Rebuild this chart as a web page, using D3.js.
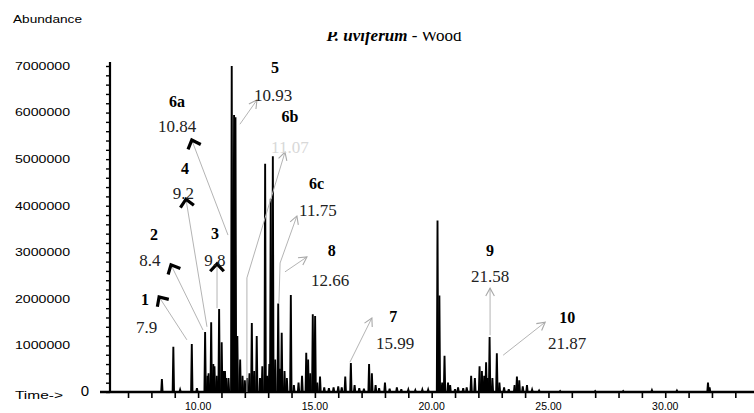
<!DOCTYPE html>
<html><head><meta charset="utf-8">
<script src="https://cdn.jsdelivr.net/npm/d3@7"></script>
<style>html,body{margin:0;padding:0;background:#fff;overflow:hidden}svg{display:block}</style>
</head><body><svg id="c" width="754" height="413"></svg>
<script>
// ---- data (retention time in min, abundance) ----
const peakTimes = [8.45,8.94,9.23,9.73,9.95,10.30,10.40,10.45,10.56,10.65,10.70,10.80,10.90,11.01,11.10,11.15,11.20,11.30,11.44,11.54,11.60,11.68,11.80,11.90,12.00,12.10,12.20,12.30,12.40,12.51,12.65,12.75,12.87,12.95,13.05,13.11,13.20,13.30,13.43,13.50,13.58,13.70,13.80,13.97,14.10,14.30,14.45,14.63,14.71,14.80,14.91,15.01,15.10,15.22,15.40,15.60,15.80,16.00,16.15,16.30,16.54,16.70,16.90,17.10,17.32,17.44,17.60,17.75,18.00,18.20,18.51,18.70,19.00,19.30,19.60,19.85,20.25,20.33,20.45,20.55,20.70,20.79,21.00,21.13,21.35,21.50,21.69,21.85,22.05,22.15,22.25,22.33,22.40,22.48,22.60,22.79,22.90,23.10,23.30,23.55,23.65,23.75,23.90,24.08,24.30,24.60,25.50,27.00,28.20,29.43,30.50,31.83,31.90];
const peakValues = [280000,970000,50000,1030000,80000,1290000,350000,400000,1500000,600000,550000,350000,1780000,1070000,450000,450000,300000,300000,7000000,5950000,5900000,1200000,700000,350000,250000,300000,400000,1480000,450000,1200000,300000,550000,4900000,350000,600000,4150000,5060000,700000,1900000,500000,1270000,450000,300000,2080000,150000,200000,350000,840000,700000,400000,1670000,1630000,200000,330000,100000,80000,100000,120000,100000,330000,620000,150000,80000,70000,600000,400000,150000,80000,200000,70000,100000,60000,50000,40000,50000,50000,3680000,2070000,200000,780000,200000,150000,60000,100000,80000,100000,350000,300000,550000,450000,350000,640000,300000,1180000,300000,830000,200000,100000,60000,150000,330000,250000,120000,150000,50000,30000,20000,20000,20000,40000,30000,200000,100000];
const yTickValues = [0,1000000,2000000,3000000,4000000,5000000,6000000,7000000];
const yTickLabels = ["0","1000000","2000000","3000000","4000000","5000000","6000000","7000000"];
const xTickValues = [10,15,20,25,30];
const xTickLabels = ["10.00","15.00","20.00","25.00","30.00"];
const compoundIds = ["1","2","3","4","5","6a","6b","6c","7","8","9","10"];
const compoundRTs = ["7.9","8.4","9.8","9.2","10.93","10.84","11.07","11.75","15.99","12.66","21.58","21.87"];

// ---- annotation layout, in data units (t = min, v = abundance) ----
const annLayout = {
  "1":  {lt:7.73, lv:1980000, rt:7.80, rv:1400000, tip:[8.33,2040000], end:[9.52,1120000], bold:true},
  "2":  {lt:8.11, lv:3390000, rt:7.94, rv:2830000, tip:[8.84,2730000], end:[10.21,1330000], bold:true},
  "3":  {lt:10.72, lv:3410000, rt:10.72, rv:2830000, tip:[10.81,2750000], end:[10.81,1800000], bold:true},
  "4":  {lt:9.44, lv:4800000, rt:9.37, rv:4270000, tip:[9.48,4140000], end:[10.38,1400000], bold:true},
  "5":  {lt:13.29, lv:6980000, rt:13.21, rv:6380000, tip:[12.52,6270000], end:[11.79,5750000], bold:false},
  "6a": {lt:9.10, lv:6230000, rt:9.10, rv:5700000, tip:[9.73,5410000], end:[11.28,3370000], bold:true},
  "6b": {lt:13.93, lv:5910000, rt:13.93, rv:5260000, tip:[13.72,5150000], end:[12.09,2450000], base:true, bold:false},
  "6c": {lt:15.07, lv:4480000, rt:15.13, rv:3910000, tip:[14.23,3780000], end:[13.51,2770000], drop:[13.46,1910000], bold:false},
  "7":  {lt:18.36, lv:1620000, rt:18.43, rv:1050000, tip:[17.44,1590000], end:[16.50,640000], bold:false},
  "8":  {lt:15.72, lv:3050000, rt:15.65, rv:2400000, tip:[14.66,2900000], end:[13.72,2580000], bold:false},
  "9":  {lt:22.50, lv:3050000, rt:22.50, rv:2480000, tip:[22.50,2230000], end:[22.50,1220000], bold:false},
  "10": {lt:25.80, lv:1610000, rt:25.80, rv:1050000, tip:[24.86,1500000], end:[23.06,790000], bold:false}
};

const svg = d3.select("#c");
const x = d3.scaleLinear().domain([5.8, 33.8]).range([100, 754]);
const y = d3.scaleLinear().domain([0, 7000000]).range([392, 66]);
const sans = "'Liberation Sans', Arial, sans-serif";
const serif = "'Liberation Serif', 'Times New Roman', serif";

// Title (top clipped as in the scan)
svg.append("defs").append("clipPath").attr("id","tclip")
  .append("rect").attr("x",0).attr("y",32).attr("width",754).attr("height",40);
const title = svg.append("text").attr("x", 394).attr("y", 41).attr("text-anchor","middle")
  .attr("clip-path","url(#tclip)")
  .style("font-family", serif).style("font-size","17px");
title.append("tspan").style("font-style","italic").style("font-weight","bold").text("P. uviferum");
title.append("tspan").text(" - Wood");

svg.append("text").attr("x",13).attr("y",23).attr("textLength",69).attr("lengthAdjust","spacingAndGlyphs")
  .style("font-family",sans).style("font-size","11px").text("Abundance");

// Y axis
const yAxis = d3.axisLeft(y).tickValues(d3.range(0, 7000001, 200000)).tickSize(4).tickFormat("");
const gy = svg.append("g").attr("transform","translate(110,0)").call(yAxis);
gy.select(".domain").remove();
gy.selectAll("line").attr("stroke","#000").attr("stroke-width",1.4);
svg.append("line").attr("x1",110).attr("x2",110).attr("y1",62).attr("y2",393)
  .attr("stroke","#000").attr("stroke-width",2.2);
svg.append("g").selectAll("text").data(yTickValues.slice(1)).join("text")
  .attr("x",15).attr("y",d=>y(d)).attr("dy","0.35em")
  .attr("textLength",55).attr("lengthAdjust","spacingAndGlyphs")
  .style("font-family",sans).style("font-size","11px")
  .text((d,i)=>yTickLabels[i+1]);
svg.append("text").attr("x",85).attr("y",y(0)-1).attr("dy","0.35em").attr("text-anchor","middle")
  .style("font-family",sans).style("font-size","15px").text(yTickLabels[0]);
svg.append("text").attr("x",15).attr("y",395).attr("dy","0.35em")
  .attr("textLength",48).attr("lengthAdjust","spacingAndGlyphs")
  .style("font-family",sans).style("font-size","10px").text("Time->");

// X axis
const xAxis = d3.axisBottom(x).tickValues(d3.range(7, 34, 1)).tickSize(6).tickFormat("");
const gx = svg.append("g").attr("transform","translate(0,392)").call(xAxis);
gx.select(".domain").remove();
gx.selectAll("line").attr("stroke","#000").attr("stroke-width",1.6);
svg.append("line").attr("x1",100).attr("x2",754).attr("y1",392).attr("y2",392)
  .attr("stroke","#000").attr("stroke-width",2.4);
svg.append("g").selectAll("text").data(xTickValues).join("text")
  .attr("x",d=>x(d)).attr("y",410).attr("text-anchor","middle")
  .style("font-family",sans).style("font-size","10.5px")
  .text((d,i)=>xTickLabels[i]);

// Chromatogram spikes
const peaks = peakTimes.map((t,i)=>({t, v:peakValues[i]}));
const spike = d3.line().x(d=>x(d[0])).y(d=>y(d[1]));
svg.append("g").selectAll("path").data(peaks).join("path")
  .attr("d", d=>spike([[d.t-0.03,0],[d.t,d.v],[d.t+0.03,0]]))
  .attr("fill","#000").attr("stroke","#000").attr("stroke-width",1.9).attr("stroke-linejoin","miter");

// Annotations
const ann = svg.append("g");
function arrowHead(g, tip, from, len, ang, color, w){
  const dx = x(from[0])-x(tip[0]), dy = y(from[1])-y(tip[1]);
  const a = Math.atan2(dy, dx);
  const p = [a-ang, a+ang].map(b=>[x(tip[0])+len*Math.cos(b), y(tip[1])+len*Math.sin(b)]);
  g.append("path").attr("d",`M${p[0][0]},${p[0][1]}L${x(tip[0])},${y(tip[1])}L${p[1][0]},${p[1][1]}`)
    .attr("fill","none").attr("stroke",color).attr("stroke-width",w).attr("stroke-linecap","butt");
}
compoundIds.forEach((id,i)=>{
  const L = annLayout[id];
  const g = ann.append("g");
  const pts = [L.tip, L.end];
  if (L.drop) pts.push(L.drop);
  if (L.base) pts.push([L.end[0], 0]);
  g.append("path").attr("d", spike(pts)).attr("fill","none").attr("stroke","#b4b4b4").attr("stroke-width",1);
  if (L.bold) arrowHead(g, L.tip, L.end, 10, 0.75, "#000", 3.2);
  else arrowHead(g, L.tip, L.end, 9, 0.5, "#a8a8a8", 1.1);
  g.append("text").attr("x",x(L.lt)).attr("y",y(L.lv)).attr("dy","0.35em").attr("text-anchor","middle")
    .style("font-family",serif).style("font-weight","bold").style("font-size","16px").text(id);
  g.append("text").attr("x",x(L.rt)).attr("y",y(L.rv)).attr("dy","0.35em").attr("text-anchor","middle")
    .style("font-family",serif).style("font-size","17px")
    .attr("fill", id==="6b" ? "#d8d8d8" : "#222")
    .text(compoundRTs[i]);
});
</script></body></html>
